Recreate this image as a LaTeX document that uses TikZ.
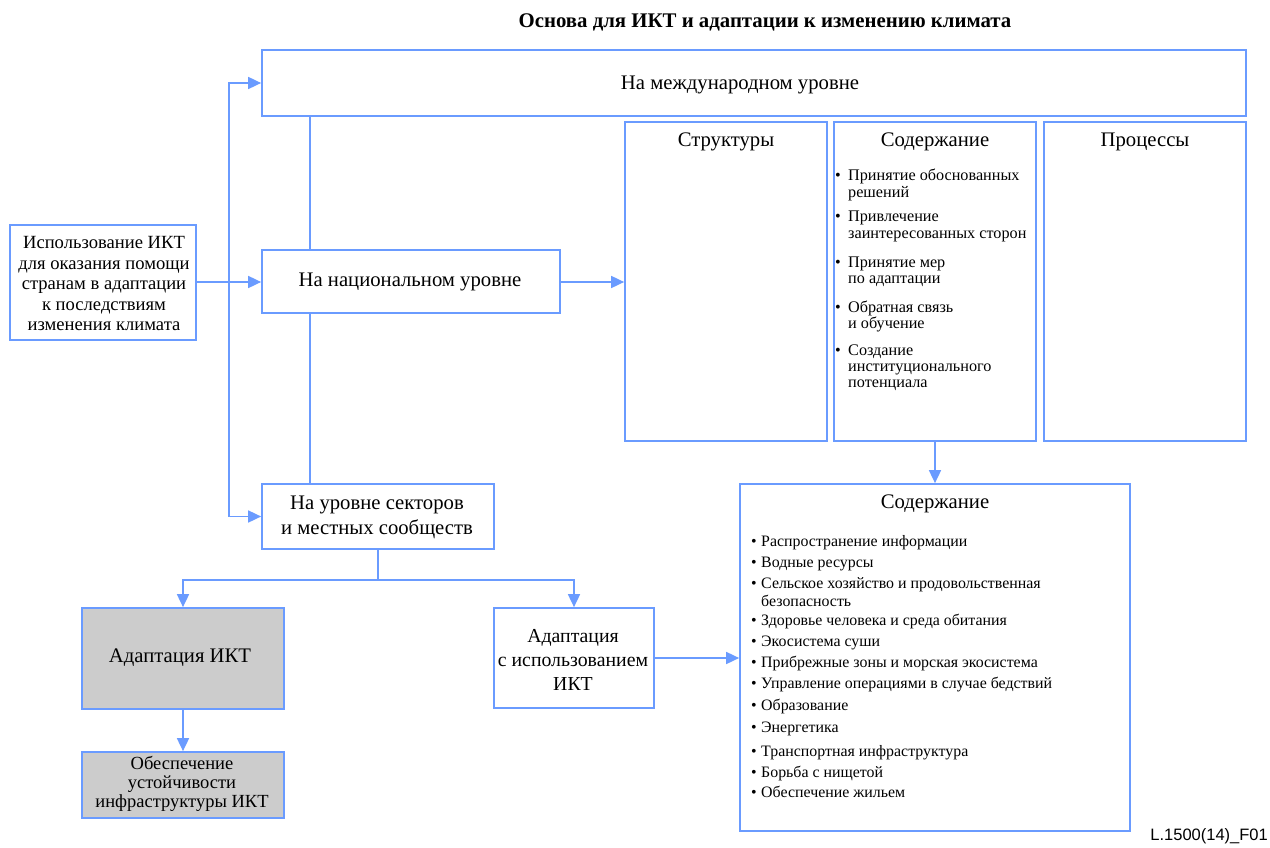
\documentclass[tikz,border=0pt]{standalone}
\usepackage{fontspec}
\setmainfont{Liberation Serif}
\newfontfamily\labelfont{Liberation Sans}
\usetikzlibrary{arrows.meta,calc}
\definecolor{lblue}{HTML}{6A9BFF}
\definecolor{gfill}{HTML}{CCCCCC}
\newcommand{\bitem}[2]{\begin{tabular}[t]{@{}p{#1}@{}l@{}}•&#2\end{tabular}}
\tikzset{
  box/.style={draw=lblue, line width=1.7pt, rectangle, inner sep=0pt},
  gbox/.style={box, fill=gfill},
  conn/.style={draw=lblue, line width=1.7pt},
  arr/.style={conn, -{Triangle[length=13pt,width=12pt]}},
  big/.style={font=\fontsize{20.7}{25}\selectfont, align=center},
  li/.style={font=\fontsize{16.2}{16.3}\selectfont, anchor=base west, inner sep=0pt},
  lj/.style={font=\fontsize{15.9}{18}\selectfont, anchor=base west, inner sep=0pt},
}
\begin{document}
\begin{tikzpicture}[x=1pt,y=-1pt]
\useasboundingbox (0,0) rectangle (1270,848);
\node[font=\bfseries\fontsize{20.8}{24}\selectfont] (title) at (765,22) {Основа для ИКТ и адаптации к изменению климата};
% boxes
\node[box, minimum width=984pt, minimum height=66pt] (intl) at (754,83) {};
\node[big] (intlt) at (740,85) {На международном уровне};
\node[box, minimum width=202pt, minimum height=319pt] (struct) at (726,281.5) {};
\node[big, anchor=base] (structt) at (726,147) {Структуры};
\node[box, minimum width=202pt, minimum height=319pt] (cont) at (935,281.5) {};
\node[big, anchor=base] (contt) at (935,147) {Содержание};
\node[box, minimum width=202pt, minimum height=319pt] (proc) at (1145,281.5) {};
\node[big, anchor=base] (proct) at (1145,147) {Процессы};
\node[box, minimum width=186pt, minimum height=115pt] (left) at (103,282.5) {};
\node[align=center, font=\fontsize{18.6}{20.5}\selectfont] (leftt) at (104,284) {Использование ИКТ\\для оказания помощи\\странам в адаптации\\к последствиям\\изменения климата};
\node[box, minimum width=298pt, minimum height=63pt] (nat) at (411,281.5) {};
\node[big] (natt) at (410,282) {На национальном уровне};
\node[box, minimum width=232pt, minimum height=65pt] (sect) at (378,516.5) {};
\node[big, font=\fontsize{20.7}{25}\selectfont] (sectt) at (377,517) {На уровне секторов\\и местных сообществ};
\node[gbox, minimum width=202pt, minimum height=101pt] (g1) at (183,658.5) {};
\node[big] (g1t) at (180,658) {Адаптация ИКТ};
\node[gbox, minimum width=202pt, minimum height=66pt] (g2) at (183,785) {};
\node[align=center, font=\fontsize{18.5}{19}\selectfont] (g2t) at (182,784) {Обеспечение\\устойчивости\\инфраструктуры ИКТ};
\node[box, minimum width=160pt, minimum height=100pt] (adapt) at (574,658) {};
\node[big, font=\fontsize{19.8}{24}\selectfont] (adaptt) at (573,660) {Адаптация\\с использованием\\ИКТ};
\node[box, minimum width=390pt, minimum height=347pt] (c2) at (935,657.5) {};
\node[big, anchor=base] (c2t) at (935,508) {Содержание};
% top content list
\node[li] (a1) at (835,181) {\bitem{13pt}{Принятие обоснованных\\&решений}};
\node[li] (a2) at (835,222) {\bitem{13pt}{Привлечение\\&заинтересованных сторон}};
\node[li] (a3) at (835,267) {\bitem{13pt}{Принятие мер\\&по адаптации}};
\node[li] (a4) at (835,312) {\bitem{13pt}{Обратная связь\\&и обучение}};
\node[li] (a5) at (835,355) {\bitem{13pt}{Создание\\&институционального\\&потенциала}};
% bottom content list
\node[lj] (b1) at (751,546) {\bitem{10pt}{Распространение информации}};
\node[lj] (b2) at (751,567) {\bitem{10pt}{Водные ресурсы}};
\node[lj] (b3) at (751,588) {\bitem{10pt}{Сельское хозяйство и продовольственная\\&безопасность}};
\node[lj] (b4) at (751,625) {\bitem{10pt}{Здоровье человека и среда обитания}};
\node[lj] (b5) at (751,646) {\bitem{10pt}{Экосистема суши}};
\node[lj] (b6) at (751,667) {\bitem{10pt}{Прибрежные зоны и морская экосистема}};
\node[lj] (b7) at (751,688) {\bitem{10pt}{Управление операциями в случае бедствий}};
\node[lj] (b8) at (751,710) {\bitem{10pt}{Образование}};
\node[lj] (b9) at (751,732) {\bitem{10pt}{Энергетика}};
\node[lj] (b10) at (751,756) {\bitem{10pt}{Транспортная инфраструктура}};
\node[lj] (b11) at (751,777) {\bitem{10pt}{Борьба с нищетой}};
\node[lj] (b12) at (751,797) {\bitem{10pt}{Обеспечение жильем}};
\node[font=\labelfont\fontsize{16.5}{19}\selectfont, anchor=east, inner sep=0pt] (lbl) at (1268,836) {L.1500(14)\_F01};
% connectors
\coordinate (j) at (229,282);
\coordinate (v1) at (310,116);
\draw[arr] (left.east |- j) -- (nat.west |- j);
\draw[arr] (j) |- (intl.west);
\draw[arr] (j) |- (sect.west);
\draw[conn] (v1 |- intl.south) -- (v1 |- nat.north);
\draw[conn] (v1 |- nat.south) -- (v1 |- sect.north);
\draw[arr] (nat.east |- j) -- (struct.west |- j);
\draw[arr] (cont.south) -- (c2.north);
\draw[arr] (sect.south) -- ++(0,30) -| (g1.north);
\draw[arr] (sect.south) -- ++(0,30) -| (adapt.north);
\draw[arr] (g1.south) -- (g2.north);
\draw[arr] (adapt.east) -- (c2.west |- adapt.east);
\end{tikzpicture}
\end{document}
